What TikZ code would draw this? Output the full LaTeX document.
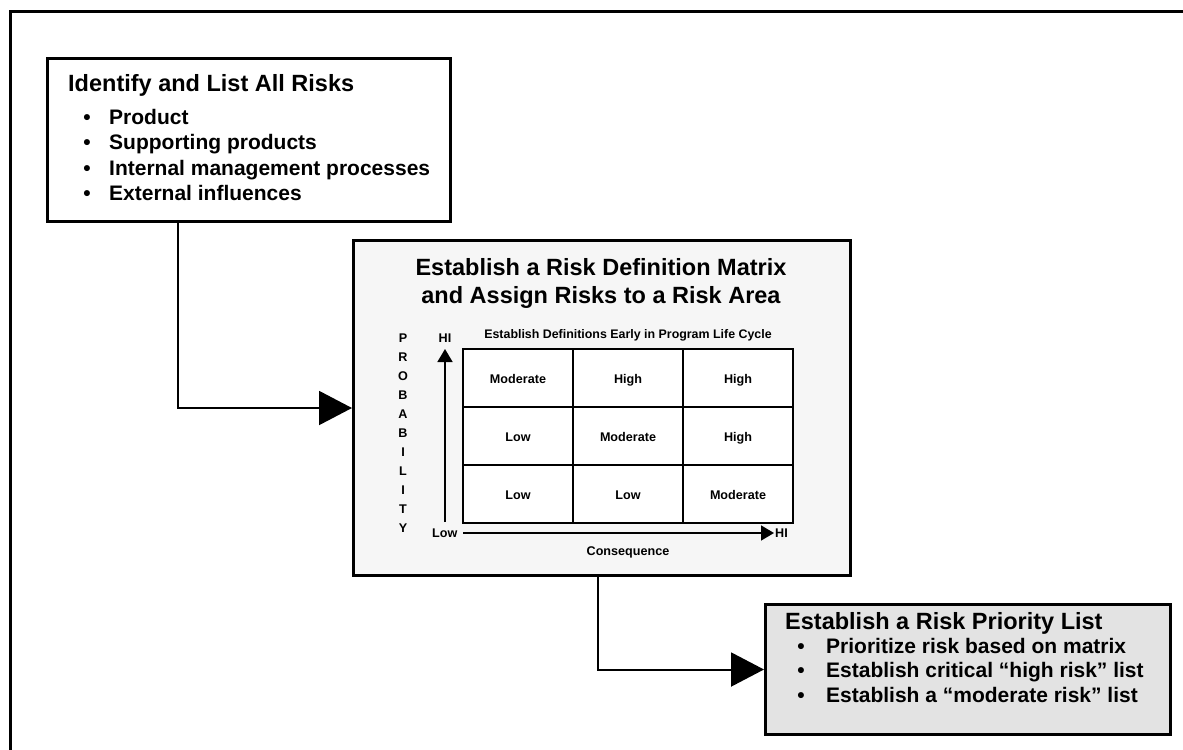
\documentclass[tikz,border=0pt]{standalone}
\usepackage{fontspec}
\setmainfont{Liberation Sans}
\usetikzlibrary{arrows.meta}
\begin{document}
\begin{tikzpicture}[x=1bp,y=-1bp,
  frame/.style={line width=3bp},
  box/.style={draw, line width=3bp, rectangle, inner sep=0pt, anchor=north west},
  conn/.style={line width=2bp, -{Triangle[length=33bp,width=34bp]}},
  cellbox/.style={draw, line width=2bp, fill=white, minimum width=110bp, minimum height=58bp, inner sep=0pt, text height=11bp, text depth=0bp, font=\fontsize{12.6bp}{14bp}\selectfont\bfseries},
  axis/.style={line width=1.6bp, -{Triangle[length=13bp,width=15bp]}},
  title/.style={font=\fontsize{23.5bp}{28bp}\selectfont\bfseries, inner sep=0pt},
  item/.style={font=\fontsize{21bp}{25bp}\selectfont\bfseries, inner sep=0pt},
  small/.style={font=\fontsize{12.6bp}{15bp}\selectfont\bfseries, inner sep=0pt},
  hdr/.style={font=\fontsize{12.4bp}{15bp}\selectfont\bfseries, inner sep=0pt}]
\useasboundingbox (0,0) rectangle (1183,750);
\fill[white] (0,0) rectangle (1183,750);
% outer frame (cut off at right and bottom)
\draw[frame] (1183,12) -- (10,12) -- (10,750);

% boxes
\node[box, fill=white, minimum width=403bp, minimum height=163bp] (b1) at (46,57) {};
\node[box, fill=gray!7, minimum width=497bp, minimum height=335bp] (b2) at (352,239) {};
\node[box, fill=gray!22, minimum width=405bp, minimum height=130bp] (b3) at (764,603) {};

% box 1 text
\node[title, anchor=base west] (t1) at (68,92) {Identify and List All Risks};
\foreach \i/\y/\t in {1/124/Product, 2/149/Supporting products, 3/175/Internal management processes, 4/200/External influences}{
  \node[item, anchor=base] (b1dot\i) at (87,\y) {•};
  \node[item, anchor=base west] (b1item\i) at (109,\y) {\t};
}

% box 2 text
\node[title, anchor=base] (t2a) at (601,275) {Establish a Risk Definition Matrix};
\node[title, anchor=base] (t2b) at (601,303) {and Assign Risks to a Risk Area};
\node[hdr, anchor=base] (hdr) at (628,338) {Establish Definitions Early in Program Life Cycle};

% matrix
\foreach \r/\c/\t in {0/0/Moderate, 0/1/High, 0/2/High, 1/0/Low, 1/1/Moderate, 1/2/High, 2/0/Low, 2/1/Low, 2/2/Moderate}{
  \node[cellbox] (cell-\r-\c) at ({518+110*\c},{378+58*\r}) {\t};
}

% axes
\coordinate (vb) at (445,522);
\coordinate (vt) at (445,349);
\coordinate (hl) at (463,533);
\coordinate (hr) at (774,533);
\draw[axis] (vb) -- (vt);
\draw[axis] (hl) -- (hr);
\node[small, anchor=base] (hiv) at (445,342) {HI};
\node[small, anchor=base west] (lowl) at (432,537) {Low};
\node[small, anchor=base west] (hih) at (775,537) {HI};
\node[small, anchor=base] (cons) at (628,555) {Consequence};
\foreach \i/\l in {0/P,1/R,2/O,3/B,4/A,5/B,6/I,7/L,8/I,9/T,10/Y}{
  \node[small, anchor=base] (prob\i) at (403,{342+19*\i}) {\l};
}

% box 3 text
\node[title, anchor=base west] (t3) at (785,629) {Establish a Risk Priority List};
\foreach \i/\y/\t in {1/653/Prioritize risk based on matrix, 2/677/Establish critical “high risk” list, 3/702/Establish a “moderate risk” list}{
  \node[item, anchor=base] (b3dot\i) at (801,\y) {•};
  \node[item, anchor=base west] (b3item\i) at (826,\y) {\t};
}

% connectors
\coordinate (k1) at (178,0);
\coordinate (k2) at (598,0);
\draw[conn] (b1.south -| k1) |- (b2.west);
\draw[conn] (b2.south -| k2) |- (b3.west);
\end{tikzpicture}
\end{document}
